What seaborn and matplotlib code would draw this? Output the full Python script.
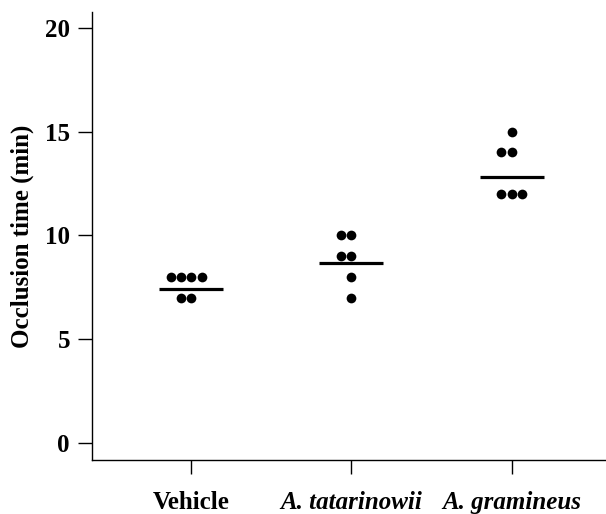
import numpy as np
import pandas as pd
import matplotlib
matplotlib.use('Agg')
import matplotlib.pyplot as plt
import seaborn as sns

sns.set_style('ticks')
plt.rcParams['font.family'] = ['Liberation Serif', 'DejaVu Serif']
plt.rcParams['font.weight'] = 'bold'
plt.rcParams['text.color'] = 'black'
plt.rcParams['axes.labelcolor'] = 'black'
plt.rcParams['xtick.color'] = 'black'
plt.rcParams['ytick.color'] = 'black'

# Data
groups = ['Vehicle', 'A. tatarinowii', 'A. gramineus']
vehicle = [8, 8, 8, 8, 7, 7]
tatarinowii = [10, 10, 9, 9, 8, 7]
gramineus = [15, 14, 14, 12, 12, 12]
means = [7.4, 8.65, 12.8]

df = pd.DataFrame({
    'group': [groups[0]] * len(vehicle) + [groups[1]] * len(tatarinowii) + [groups[2]] * len(gramineus),
    'time': vehicle + tatarinowii + gramineus,
})

fig = plt.figure(figsize=(6.06, 5.14), dpi=100)
ax = fig.add_axes([0.152, 0.105, 0.848, 0.872])

sns.swarmplot(data=df, x='group', y='time', order=groups, color='black',
              size=7, ax=ax)

# mean bars
xs = np.arange(len(groups))
ax.hlines(means, xs - 0.2, xs + 0.2, color='black', linewidth=2.3)

ax.set_xlim(-0.62, 2.59)
ax.set_ylim(-0.82, 20.77)
ax.set_yticks([0, 5, 10, 15, 20])
ax.set_yticklabels(['0', '5', '10', '15', '20'], fontsize=18, fontweight='bold')
ax.set_xticks(xs)
ax.set_xticklabels(groups, fontsize=18, fontweight='bold')
for lab in ax.get_xticklabels()[1:]:
    lab.set_style('italic')
ax.tick_params(axis='both', direction='out', length=10, width=1, color='black',
               labelcolor='black')
ax.tick_params(axis='x', pad=12)
ax.tick_params(axis='y', pad=6)

ax.set_xlabel('')
ax.set_ylabel('Occlusion time (min)', fontsize=18, fontweight='bold', labelpad=8,
              color='black')

for side in ['top', 'right']:
    ax.spines[side].set_visible(False)
for side in ['left', 'bottom']:
    ax.spines[side].set_linewidth(1)
    ax.spines[side].set_color('black')

fig.savefig('out.png', dpi=100)
